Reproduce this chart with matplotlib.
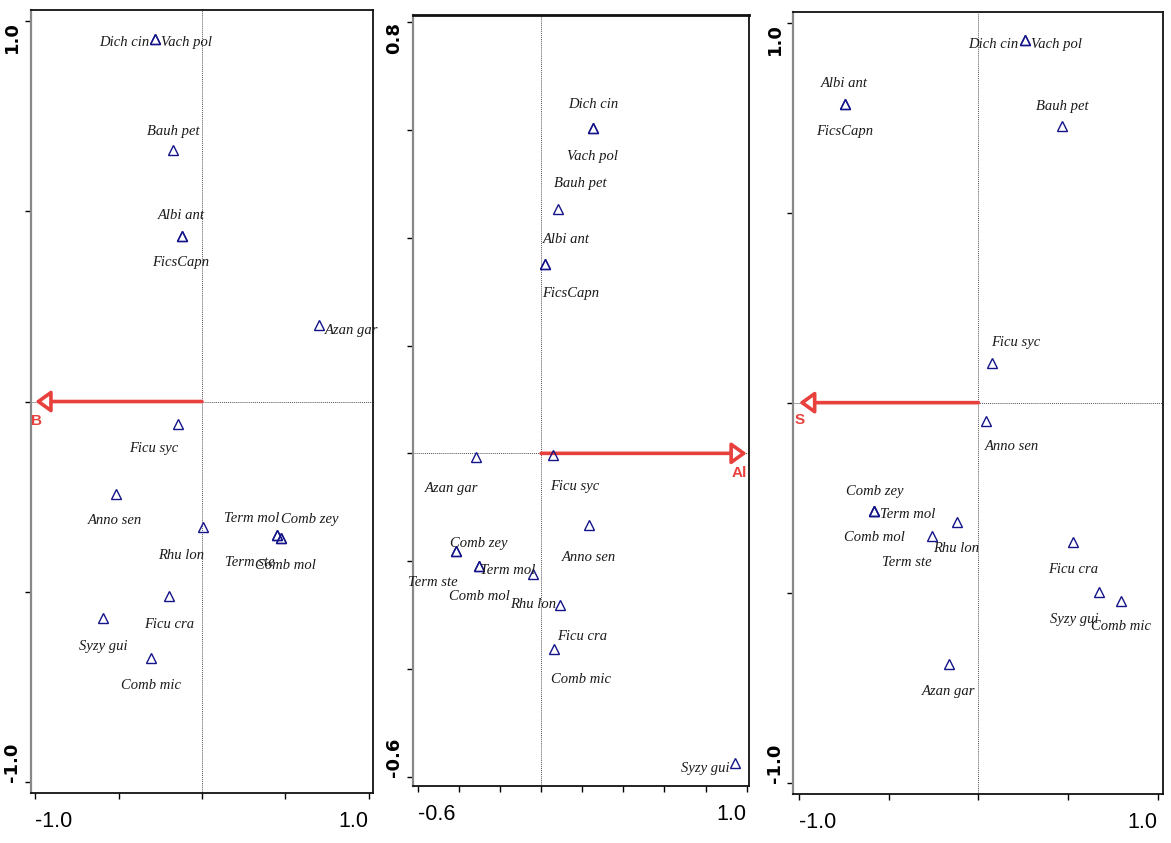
import numpy as np
import matplotlib.pyplot as plt

# species scores on the first constrained axis / second axis for each variable
species = ["Dich cin", "Vach pol", "Bauh pet", "Albi ant", "FicsCapn", "Azan gar",
           "Ficu syc", "Anno sen", "Rhu lon", "Term mol", "Comb zey", "Term ste",
           "Comb mol", "Ficu cra", "Syzy gui", "Comb mic"]

b_x = [-0.280, -0.280, -0.174, -0.120, -0.120, 0.700, -0.144, -0.516, 0.006,
       0.450, 0.474, 0.450, 0.474, -0.198, -0.594, -0.306]
b_y = [0.954, 0.954, 0.660, 0.436, 0.436, 0.202, -0.058, -0.244, -0.331,
       -0.352, -0.360, -0.352, -0.360, -0.512, -0.570, -0.675]

al_x = [0.252, 0.252, 0.081, 0.021, 0.021, -0.316, 0.058, 0.232, -0.039,
        -0.301, -0.413, -0.413, -0.301, 0.091, 0.943, 0.061]
al_y = [0.603, 0.603, 0.454, 0.352, 0.352, -0.006, -0.003, -0.133, -0.224,
        -0.209, -0.182, -0.182, -0.209, -0.281, -0.575, -0.363]

s_x = [0.257, 0.257, 0.467, -0.743, -0.743, -0.163, 0.075, 0.041, -0.120,
       -0.580, -0.580, -0.258, -0.580, 0.530, 0.673, 0.796]
s_y = [0.954, 0.954, 0.728, 0.786, 0.786, -0.688, 0.105, -0.047, -0.313,
       -0.284, -0.284, -0.350, -0.284, -0.368, -0.497, -0.522]

# environmental arrows (first axis score)
env_names = ["B", "Al", "S"]
env_scores = [-1.0, 1.0, -1.0]

# label placement (pixel offsets from the symbol, alignment)
b_lab = {"Dich cin": (-6, -4, "right"), "Vach pol": (6, -4, "left"),
         "Bauh pet": (0, 19, "center"), "Albi ant": (-1, 20, "center"),
         "FicsCapn": (-1, -27, "center"), "Azan gar": (6, -6, "left"),
         "Ficu syc": (-24, -25, "center"), "Anno sen": (-1, -26, "center"),
         "Rhu lon": (-22, -28, "center"), "Term mol": (-25, 17, "center"),
         "Comb zey": (29, 19, "center"), "Term ste": (-27, -27, "center"),
         "Comb mol": (4, -27, "center"), "Ficu cra": (0, -28, "center"),
         "Syzy gui": (0, -28, "center"), "Comb mic": (0, -27, "center")}
al_lab = {"Dich cin": (0, 24, "center"), "Vach pol": (0, -28, "center"),
          "Bauh pet": (23, 25, "center"), "Albi ant": (21, 24, "center"),
          "FicsCapn": (25, -30, "center"), "Azan gar": (-25, -32, "center"),
          "Ficu syc": (22, -32, "center"), "Anno sen": (0, -32, "center"),
          "Comb zey": (23, 8, "center"), "Term ste": (-23, -31, "center"),
          "Term mol": (28, -4, "center"), "Comb mol": (0, -30, "center"),
          "Rhu lon": (0, -30, "center"), "Ficu cra": (22, -32, "center"),
          "Comb mic": (27, -30, "center"), "Syzy gui": (-5, -5, "right")}
s_lab = {"Dich cin": (-6, -4, "right"), "Vach pol": (6, -4, "left"),
         "Bauh pet": (0, 20, "center"), "Albi ant": (-1, 21, "center"),
         "FicsCapn": (-1, -27, "center"), "Ficu syc": (24, 20, "center"),
         "Anno sen": (26, -26, "center"), "Comb zey": (0, 19, "center"),
         "Term mol": (6, -4, "left"), "Comb mol": (0, -27, "center"),
         "Term ste": (-25, -27, "center"), "Rhu lon": (-1, -27, "center"),
         "Ficu cra": (0, -27, "center"), "Syzy gui": (-25, -28, "center"),
         "Comb mic": (0, -26, "center"), "Azan gar": (-1, -27, "center")}

RED = "#e8403c"
NAVY = "#14148a"
SANS = ["Liberation Sans", "DejaVu Sans"]

fig = plt.figure(figsize=(11.71, 8.43), dpi=100)

panels = [
    dict(rect=[0.0265, 0.0593, 0.292, 0.9288], x=b_x, y=b_y, lab=b_lab,
         xlim=(-1.026, 1.026), ylim=(-1.029, 1.029),
         xt=np.linspace(-1, 1, 5), yt=np.linspace(-1, 1, 5),
         xl=("-1.0", "1.0"), yl=("-1.0", "1.0"), env=0, elab=(1, -19), toplw=1.3),
    dict(rect=[0.3527, 0.0676, 0.2869, 0.9146], x=al_x, y=al_y, lab=al_lab,
         xlim=(-0.623, 1.011), ylim=(-0.617, 0.813),
         xt=np.linspace(-0.6, 1.0, 9), yt=np.linspace(-0.6, 0.8, 8),
         xl=("-0.6", "1.0"), yl=("-0.6", "0.8"), env=1, elab=(-7, -20), toplw=2.0),
    dict(rect=[0.6775, 0.0581, 0.3155, 0.9276], x=s_x, y=s_y, lab=s_lab,
         xlim=(-1.032, 1.028), ylim=(-1.03, 1.028),
         xt=np.linspace(-1, 1, 5), yt=np.linspace(-1, 1, 5),
         xl=("-1.0", "1.0"), yl=("-1.0", "1.0"), env=2, elab=(1, -17), toplw=1.3),
]

for p in panels:
    ax = fig.add_axes(p["rect"])
    ax.set_xlim(*p["xlim"])
    ax.set_ylim(*p["ylim"])

    # axis cross through the origin
    ax.axvline(0, color="#555555", lw=0.7, ls=(0, (1, 1)), zorder=1)
    ax.axhline(0, color="#555555", lw=0.7, ls=(0, (1, 1)), zorder=1)

    # environmental variable arrow
    k = p["env"]
    ax.annotate("", xy=(env_scores[k], 0), xytext=(0, 0),
                arrowprops=dict(arrowstyle="-|>,head_length=0.9,head_width=0.65",
                                ec=RED, fc="white", lw=2.6,
                                shrinkA=0, shrinkB=0), zorder=3)
    ax.annotate(env_names[k], xy=(env_scores[k], 0), xytext=p["elab"],
                textcoords="offset pixels", ha="center", va="center",
                color=RED, fontsize=11, fontweight="bold", family=SANS)

    # species symbols and names
    ax.plot(p["x"], p["y"], ls="none", marker="^", ms=7, mfc="none",
            mec=NAVY, mew=1.0, zorder=4)
    for name, xv, yv in zip(species, p["x"], p["y"]):
        dx, dy, ha = p["lab"][name]
        ax.annotate(name, xy=(xv, yv), xytext=(dx, dy),
                    textcoords="offset pixels", ha=ha, va="center",
                    fontsize=10.5, style="italic", color="#1a1a1a",
                    family=["Liberation Serif", "DejaVu Serif"], zorder=5)

    # frame and ticks
    for side in ["right", "bottom"]:
        ax.spines[side].set_color("#111111")
        ax.spines[side].set_linewidth(1.3)
    ax.spines["top"].set_color("#111111")
    ax.spines["top"].set_linewidth(p["toplw"])
    ax.spines["left"].set_color("#888888")
    ax.spines["left"].set_linewidth(1.6)

    ax.set_xticks(p["xt"])
    ax.set_xticklabels([p["xl"][0]] + [""] * (len(p["xt"]) - 2) + [p["xl"][1]],
                       fontsize=15.5, family=SANS)
    xlabs = ax.get_xticklabels()
    xlabs[0].set_ha("left")
    xlabs[-1].set_ha("right")

    ax.set_yticks(p["yt"])
    ax.set_yticklabels([p["yl"][0]] + [""] * (len(p["yt"]) - 2) + [p["yl"][1]],
                       fontsize=13, fontweight="bold", rotation=90,
                       family="DejaVu Sans")
    ylabs = ax.get_yticklabels()
    ylabs[0].set_va("bottom")
    ylabs[-1].set_va("top")

    ax.tick_params(axis="x", direction="out", length=4, width=1, pad=9)
    ax.tick_params(axis="y", direction="out", length=4, width=1, pad=3)

fig.savefig("out.png", dpi=100)
